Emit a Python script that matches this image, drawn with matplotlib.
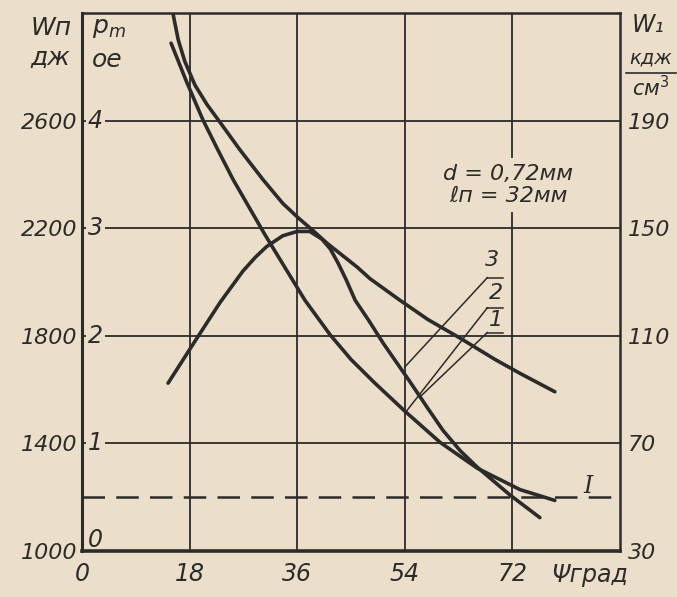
# Wn, pm, Wv vs angle psi (scanned chart recreation)
import numpy as np
import matplotlib.pyplot as plt

# tick values
x_ticks = [0, 18, 36, 54, 72]
pm_ticks = [0, 1, 2, 3, 4]
wn_labels = ['1000', '1400', '1800', '2200', '2600']
wv_labels = ['30', '70', '110', '150', '190']

# curve 3 (upper, smooth)
psi_3 = [15.2, 16.1, 17.2, 18.9, 20.9, 22.75, 26.4, 30.3, 33.6, 36.1, 38.6, 41.0,
         43.5, 46.0, 48.2, 53.2, 57.9, 63.2, 69.1, 73.3, 79.1]
val_3 = [5.0, 4.75, 4.55, 4.33, 4.15, 4.01, 3.73, 3.45, 3.23, 3.10, 2.98, 2.86,
         2.75, 2.64, 2.53, 2.33, 2.15, 1.98, 1.78, 1.65, 1.48]

# curve starting top-left, lower one
psi_a = [14.9, 17.5, 20.2, 22.8, 25.3, 28.0, 30.6, 34.0, 37.3, 41.5, 45.0, 49.0,
         54.0, 59.9, 66.1, 73.3, 79.1]
val_a = [4.72, 4.36, 4.01, 3.72, 3.45, 3.19, 2.94, 2.63, 2.33, 2.01, 1.78, 1.56,
         1.30, 1.01, 0.77, 0.57, 0.47]

# peaked curve
psi_c = [14.4, 18.9, 23.1, 26.9, 29.0, 30.9, 33.6, 36.0, 38.1, 40.1, 41.5, 42.8,
         44.2, 45.7, 48.0, 50.4, 54.9, 57.8, 60.4, 63.3, 66.1, 71.6, 76.6]
val_c = [1.56, 1.95, 2.31, 2.60, 2.73, 2.83, 2.93, 2.97, 2.97, 2.90, 2.81, 2.68,
         2.52, 2.33, 2.14, 1.93, 1.57, 1.33, 1.12, 0.93, 0.78, 0.52, 0.31]

level_I = 0.5

bg = '#ecdfca'
ink = '#2b2b2b'
fnt = dict(family='DejaVu Sans', style='italic', color=ink)

fig = plt.figure(figsize=(6.77, 5.97), dpi=100, facecolor=bg)
ax = fig.add_axes([82 / 677, 46 / 597, 538 / 677, 538 / 597])
ax.set_facecolor(bg)
ax.set_xlim(0, 90)
ax.set_ylim(0, 5)

# grid
for xv in x_ticks[1:]:
    ax.axvline(xv, color=ink, lw=1.3, zorder=1)
for yv in pm_ticks[1:]:
    ax.axhline(yv, color=ink, lw=1.3, zorder=1)

for s in ax.spines.values():
    s.set_color(ink)
    s.set_linewidth(1.8)
    s.set_zorder(6)
ax.spines['bottom'].set_linewidth(2.6)
ax.spines['left'].set_linewidth(2.2)

# curves
for px, py in [(psi_3, val_3), (psi_a, val_a), (psi_c, val_c)]:
    ax.plot(px, py, color=ink, lw=2.6, solid_capstyle='round',
            solid_joinstyle='round', zorder=3)

ax.axhline(level_I, color=ink, lw=1.8, dashes=(9, 4.5), zorder=2)
ax.text(84.6, 0.60, 'I', fontsize=17, family='DejaVu Serif', style='italic',
        color=ink, ha='center', va='center')

# ticks
ax.set_xticks(x_ticks)
ax.set_xticklabels([str(v) for v in x_ticks], fontsize=17, **fnt)
ax.set_yticks(pm_ticks)
ax.set_yticklabels(wn_labels, fontsize=16, **fnt)
ax.tick_params(length=0, pad=3)
ax.tick_params(axis='x', pad=8)

for yv in pm_ticks:
    ax.text(1.0, yv + (0.1 if yv == 0 else 0), str(yv), fontsize=17, ha='left',
            va='center', zorder=4, bbox=dict(fc=bg, ec='none', pad=1.5), **fnt)

ax2 = ax.twinx()
ax2.set_ylim(30, 230)
ax2.set_yticks([30, 70, 110, 150, 190])
ax2.set_yticklabels(wv_labels, fontsize=16, **fnt)
ax2.tick_params(length=0, pad=6)
for s in ax2.spines.values():
    s.set_visible(False)

# parameters text
ax.text(71.3, 3.40, 'd = 0,72мм\nℓп = 32мм', fontsize=16, ha='center', va='center',
        linespacing=1.15, zorder=4, bbox=dict(fc=bg, ec='none', pad=4), **fnt)

# curve labels with leaders
labels = [('3', 68.6, 2.70, 2.54, 54.0, 1.71),
          ('2', 69.2, 2.40, 2.26, 54.0, 1.28),
          ('1', 69.2, 2.15, 2.03, 56.5, 1.43)]
for txt, lx, ly, uy, ex, ey in labels:
    ax.text(lx, ly, txt, fontsize=16, ha='center', va='center', zorder=4, **fnt)
    ax.plot([67.8, 70.4], [uy, uy], color=ink, lw=1.1, zorder=4)
    ax.plot([67.8, ex], [uy, ey], color=ink, lw=1.1, zorder=4)

# axis headers
fig.text(72 / 677, 1 - 28 / 597, 'Wп', fontsize=18, ha='right', va='center', **fnt)
fig.text(70 / 677, 1 - 58 / 597, 'дж', fontsize=18, ha='right', va='center', **fnt)
fig.text(92 / 677, 1 - 28 / 597, 'p$_m$', fontsize=18, ha='left', va='center', **fnt)
fig.text(92 / 677, 1 - 60 / 597, 'ое', fontsize=18, ha='left', va='center', **fnt)
fig.text(632 / 677, 1 - 25 / 597, 'W₁', fontsize=17, ha='left', va='center', **fnt)
fig.text(651 / 677, 1 - 58 / 597, 'кдж', fontsize=14, ha='center', va='center', **fnt)
fig.add_artist(plt.Line2D([626 / 677, 676 / 677], [1 - 73 / 597, 1 - 73 / 597],
                          color=ink, lw=1.2))
fig.text(651 / 677, 1 - 88 / 597, 'см$^3$', fontsize=15, ha='center', va='center', **fnt)
fig.text(590 / 677, 1 - 575 / 597, 'Ψград', fontsize=17, ha='center', va='center', **fnt)

fig.savefig('out.png', dpi=100, facecolor=bg)
